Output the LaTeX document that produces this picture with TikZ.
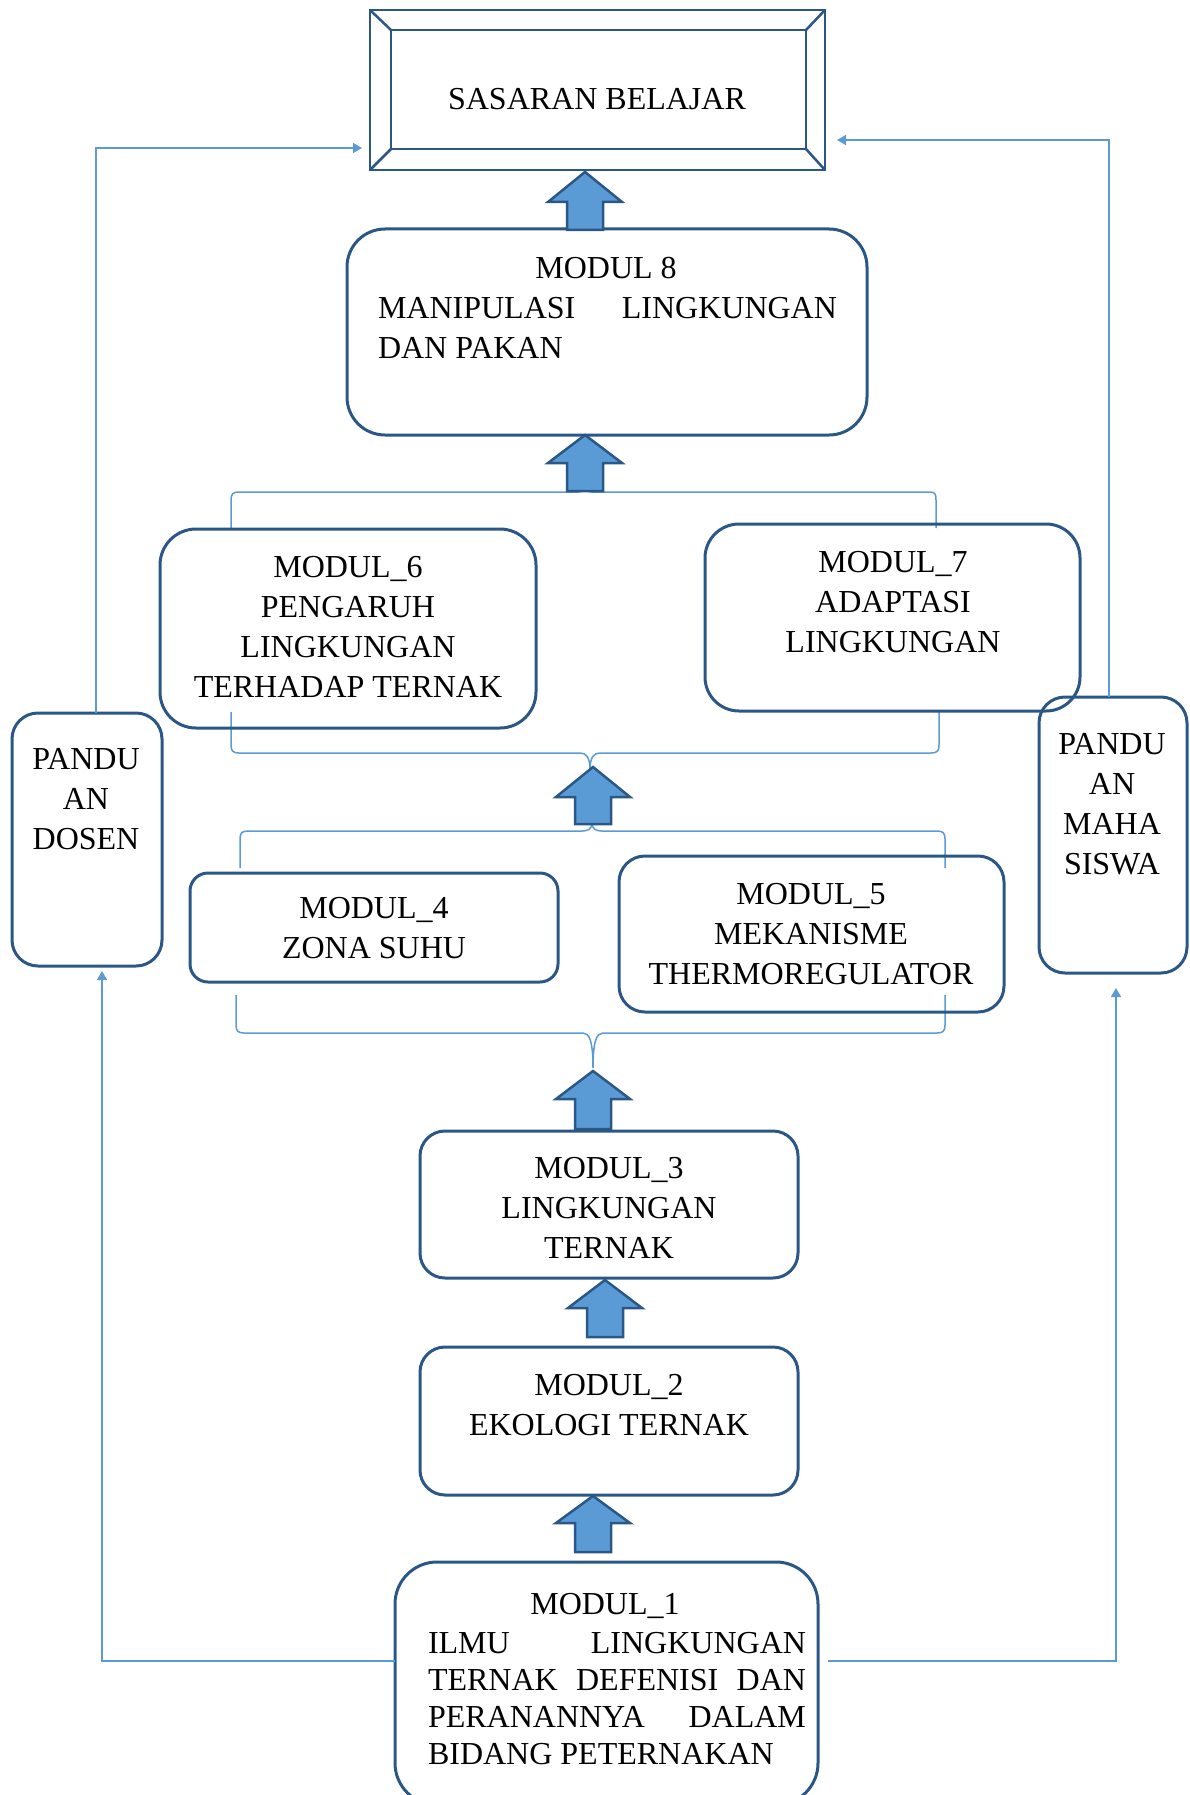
\documentclass[tikz,border=0pt]{standalone}
\usepackage{fontspec}
\setmainfont{Liberation Serif}
\usetikzlibrary{arrows.meta,calc}
\definecolor{boxblue}{HTML}{2B5787}
\definecolor{lineblue}{HTML}{5B9BD5}
\definecolor{arrowfill}{HTML}{5B9BD5}
\newcommand\blockup[4]{%
  \draw[blockarrow] (#1,#2) -- (#1+37,#3) -- (#1+18,#3) -- (#1+18,#4) -- (#1-18,#4) -- (#1-18,#3) -- (#1-37,#3) -- cycle;}
\begin{document}
\begin{tikzpicture}[x=1pt,y=-1pt,
  box/.style={draw=boxblue, line width=3pt, rectangle, inner sep=0pt, outer sep=0pt},
  lbl/.style={inner sep=0pt, outer sep=0pt, anchor=base, font=\fontsize{32}{40}\selectfont},
  conn/.style={draw=lineblue, line width=1.5pt, -{Triangle[length=9pt,width=10pt]}},
  bracepath/.style={draw=lineblue, line width=1.5pt},
  blockarrow/.style={draw=boxblue, fill=arrowfill, line width=2.5pt, line join=miter}]
\useasboundingbox (0,0) rectangle (1189,1795);
\clip (0,0) rectangle (1189,1795);

% braces
\draw[bracepath] (231,528) -- (231,500) .. controls (231,494) and (233,492) .. (239,492) -- (578,492)
  .. controls (583,492) and (585,490) .. (585,484) .. controls (585,490) and (587,492) .. (592,492)
  -- (930,492) .. controls (935,492) and (936,494) .. (936,500) -- (936,528);
\draw[bracepath] (231,712) -- (231,745) .. controls (231,751) and (233,753) .. (239,753) -- (580,753)
  .. controls (586,753) and (590,757) .. (590,770) .. controls (590,757) and (594,753) .. (600,753)
  -- (931,753) .. controls (937,753) and (939,751) .. (939,745) -- (939,712);
\draw[bracepath] (240,868) -- (240,839) .. controls (240,833) and (242,831) .. (248,831) -- (582,831)
  .. controls (588,831) and (592,829) .. (592,823) .. controls (592,829) and (596,831) .. (602,831)
  -- (937,831) .. controls (943,831) and (945,833) .. (945,839) -- (945,868);
\draw[bracepath] (236,995) -- (236,1025) .. controls (236,1031) and (238,1033) .. (244,1033) -- (583,1033)
  .. controls (589,1033) and (593,1040) .. (593,1068) .. controls (593,1040) and (597,1033) .. (603,1033)
  -- (937,1033) .. controls (943,1033) and (945,1031) .. (945,1025) -- (945,995);

% boxes
\node[box, line width=2.5pt, minimum width=455pt, minimum height=160pt] (sas) at (597.5,90) {};
\coordinate (si1) at ($(sas.north west)+(21,20)$);
\coordinate (si2) at ($(sas.north east)+(-19,20)$);
\coordinate (si3) at ($(sas.south east)+(-19,-21)$);
\coordinate (si4) at ($(sas.south west)+(21,-21)$);
\draw[boxblue, line width=2.5pt] (si1) -- (si2) -- (si3) -- (si4) -- cycle;
\draw[boxblue, line width=2.5pt] (sas.north west) -- (si1) (sas.north east) -- (si2)
  (sas.south east) -- (si3) (sas.south west) -- (si4);

\node[box, rounded corners=38pt, minimum width=520pt, minimum height=206pt] (m8) at (607,332) {};
\node[box, rounded corners=36pt, minimum width=376pt, minimum height=199pt] (m6) at (348,628.5) {};
\node[box, rounded corners=34pt, minimum width=375pt, minimum height=187pt] (m7) at (892.5,617.5) {};
\node[box, rounded corners=18pt, minimum width=368pt, minimum height=109pt] (m4) at (374,927.5) {};
\node[box, rounded corners=26pt, minimum width=385pt, minimum height=156pt] (m5) at (811.5,934) {};
\node[box, rounded corners=25pt, minimum width=378pt, minimum height=147pt] (m3) at (609,1204.5) {};
\node[box, rounded corners=25pt, minimum width=378pt, minimum height=148pt] (m2) at (609,1421) {};
\node[box, rounded corners=42pt, minimum width=423pt, minimum height=243pt] (m1) at (606.5,1683.5) {};
\node[box, rounded corners=26pt, minimum width=150pt, minimum height=253pt] (pd) at (87,839.5) {};
\node[box, rounded corners=26pt, minimum width=148pt, minimum height=276pt] (pm) at (1113,835) {};

% thin connectors
\coordinate (lc) at (102,1661);
\draw[conn, shorten >=5pt] (m1.west |- lc) -- (lc) -- (lc |- pd.south);
\coordinate (lt) at (96,148);
\draw[conn, shorten >=8pt] (pd.north -| lt) -- (lt) -- (lt -| sas.west);
\coordinate (rc) at (1116,1661);
\draw[conn, shorten <=10pt, shorten >=15pt] (m1.east |- rc) -- (rc) -- (rc |- pm.south);
\coordinate (rt) at (1109,140);
\draw[conn, shorten >=12pt] (pm.north -| rt) -- (rt) -- (rt -| sas.east);

% block arrows
\blockup{585}{172}{202}{230}
\blockup{585}{435}{463}{491}
\blockup{593}{767}{797}{824}
\blockup{593}{1071}{1099}{1129}
\blockup{605}{1280}{1308}{1337}
\blockup{593}{1496}{1523}{1552}

% texts
\node[lbl] (sast) at (597,110) {SASARAN BELAJAR};
\node[lbl] (m8a) at (606,278) {MODUL 8};
\node[lbl, anchor=base west] (m8b) at (378,318) {\parbox[t]{459pt}{MANIPULASI\hfill LINGKUNGAN\\DAN PAKAN}};
\node[lbl] (m6t) at (348,577) {\parbox[t]{370pt}{\centering MODUL\_6\\PENGARUH\\LINGKUNGAN\\TERHADAP TERNAK}};
\node[lbl] (m7t) at (893,572) {\parbox[t]{370pt}{\centering MODUL\_7\\ADAPTASI\\LINGKUNGAN}};
\node[lbl] (m4t) at (374,918) {\parbox[t]{360pt}{\centering MODUL\_4\\ZONA SUHU}};
\node[lbl] (m5t) at (811,904) {\parbox[t]{380pt}{\centering MODUL\_5\\MEKANISME\\THERMOREGULATOR}};
\node[lbl] (m3t) at (609,1178) {\parbox[t]{370pt}{\centering MODUL\_3\\LINGKUNGAN\\TERNAK}};
\node[lbl] (m2t) at (609,1395) {\parbox[t]{370pt}{\centering MODUL\_2\\EKOLOGI TERNAK}};
\node[lbl] (m1a) at (605,1614) {MODUL\_1};
\node[lbl, anchor=base west] (m1b) at (428,1653) {\parbox[t]{378pt}{\fontsize{32}{37}\selectfont ILMU\hfill LINGKUNGAN\\TERNAK\hfill DEFENISI\hfill DAN\\PERANANNYA\hfill DALAM\\BIDANG PETERNAKAN}};
\node[lbl] (pdt) at (86,769) {\parbox[t]{140pt}{\centering PANDU\\AN\\DOSEN}};
\node[lbl] (pmt) at (1112,754) {\parbox[t]{140pt}{\centering PANDU\\AN\\MAHA\\SISWA}};
\end{tikzpicture}
\end{document}
